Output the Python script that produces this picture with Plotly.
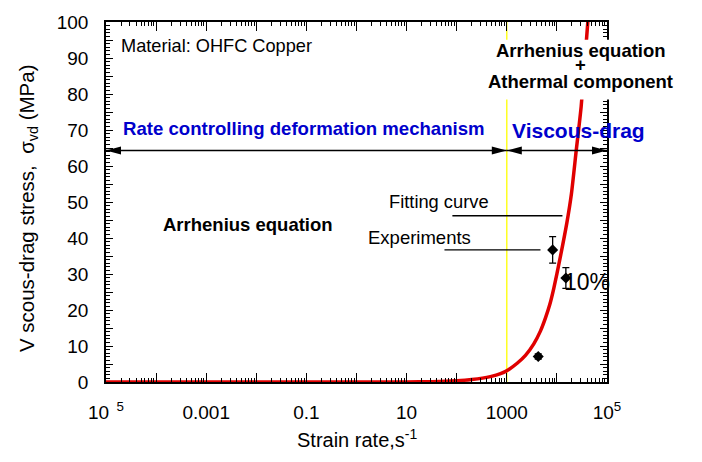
import plotly.graph_objects as go

# Fitted viscous-drag stress curve: strain rate (1/s) vs stress (MPa)
fit_rate = [1e-5, 1, 10, 32, 100, 200, 470, 750, 1100, 1610, 2360, 3460, 4710,
            5920, 7210, 8670, 11500, 15800, 19500, 24300, 30500, 41400, 47900]
fit_stress = [0, 0, 0.03, 0.1, 0.35, 0.7, 1.5, 2.3, 3.5, 5.2, 7.4, 10.6, 14.2,
              17.8, 21.5, 26.0, 34.2, 44.2, 52.3, 64.3, 76.5, 100, 112]

# Experimental points (error bars are +/-10 %)
exp_rate = [4240, 8220, 15100]
exp_stress = [7.1, 36.7, 28.9]
exp_err_pct = 10

# Axis ticks
x_major = [1e-5, 1e-4, 1e-3, 1e-2, 1e-1, 1, 10, 100, 1e3, 1e4, 1e5]
x_labels = ["10<sup>\u00a0\u00a05</sup>", "", "0.001", "", "0.1", "", "10", "",
            "1000", "", "10<sup>5</sup>"]
x_minor = [m * d for d in x_major[:-1] for m in range(2, 10)]
y_major = list(range(0, 101, 5))
y_labels = ["0", "", "10", "", "20", "", "30", "", "40", "", "50", "",
            "60", "", "70", "", "80", "", "90", "", "100"]

# Regime boundary and the level of the regime arrows
transition_rate = 1000
arrow_level = 64.3
rate_min, rate_max = 1e-5, 1e5

FONT = "Arial, 'Liberation Sans', Helvetica, sans-serif"
BLUE = "#0000cc"
RED = "#e00000"

fig = go.Figure()

fig.add_trace(go.Scatter(
    x=fit_rate, y=fit_stress, mode="lines",
    line=dict(color=RED, width=3.5, shape="spline", smoothing=0.6),
    hoverinfo="skip"))

fig.add_trace(go.Scatter(
    x=exp_rate, y=exp_stress, mode="markers",
    marker=dict(symbol="diamond", size=8.5, color="black"),
    error_y=dict(type="percent", value=exp_err_pct, color="black",
                 thickness=1.3, width=3.5)))

# empty trace that carries the top/right frame axes
fig.add_trace(go.Scatter(x=[rate_min], y=[0], xaxis="x2", yaxis="y2", mode="markers",
                         marker=dict(opacity=0), hoverinfo="skip"))

shapes = []
# regime boundary
shapes.append(dict(type="line", xref="x", yref="y", x0=transition_rate, x1=transition_rate,
                   y0=0, y1=100, line=dict(color="#ffff00", width=1.3), layer="below"))
# double arrows
for a, b in [(rate_min, transition_rate), (transition_rate, rate_max)]:
    shapes.append(dict(type="line", xref="x", yref="y", x0=a, x1=b,
                       y0=arrow_level, y1=arrow_level, line=dict(color="black", width=1.4)))
    shapes.append(dict(type="path", xref="x", yref="y", xsizemode="pixel", ysizemode="pixel",
                       xanchor=a, yanchor=arrow_level, path="M0,0L15,4L15,-4Z",
                       fillcolor="black", line=dict(width=0)))
    shapes.append(dict(type="path", xref="x", yref="y", xsizemode="pixel", ysizemode="pixel",
                       xanchor=b, yanchor=arrow_level, path="M0,0L-15,4L-15,-4Z",
                       fillcolor="black", line=dict(width=0)))
# leader lines for the labels
shapes.append(dict(type="line", xref="x", yref="y", x0=82, x1=12900, y0=46.2, y1=46.2,
                   line=dict(color="black", width=1.4)))
shapes.append(dict(type="line", xref="x", yref="y", x0=57, x1=4700, y0=36.7, y1=36.7,
                   line=dict(color="black", width=1.4)))
# white backing behind the upper-right label block
shapes.append(dict(type="rect", xref="paper", yref="paper", x0=0.764, x1=1.138,
                   y0=0.785, y1=0.951, fillcolor="white", line=dict(width=0), layer="above"))


def note(text, x, y, size, xanchor="left", color="black", bold=False, angle=0):
    if bold:
        text = "<b>" + text + "</b>"
    return dict(text=text, x=x, y=y, xref="paper", yref="paper", showarrow=False,
                xanchor=xanchor, yanchor="middle", textangle=angle,
                font=dict(family=FONT, size=size, color=color))


annotations = [
    note("Material: OHFC Copper", 0.026, 0.934, 18.2),
    note("Rate controlling deformation mechanism", 0.029, 0.705, 18.6, color=BLUE, bold=True),
    note("Viscous-drag", 0.8054, 0.699, 21, color=BLUE, bold=True),
    note("Arrhenius equation", 0.9475, 0.922, 18.5, xanchor="center", bold=True),
    note("+", 0.9475, 0.882, 18.5, xanchor="center", bold=True),
    note("Athermal component", 0.9475, 0.836, 18.5, xanchor="center", bold=True),
    note("Arrhenius equation", 0.2834, 0.437, 18.5, xanchor="center", bold=True),
    note("Fitting curve", 0.5615, 0.501, 18.3),
    note("Experiments", 0.519, 0.401, 18.5),
    note("10%", 0.9102, 0.277, 23),
    note("V scous-drag stress,\u00a0\u00a0\u03c3<sub>vd</sub> (MPa)", -0.1567, 0.4845, 20.5,
         xanchor="center", angle=-90),
    note("Strain rate,s<sup>-1</sup>", 0.501, -0.1576, 20, xanchor="center"),
]

tick_font = dict(family=FONT, size=19, color="black")
frame = dict(showline=True, linecolor="black", linewidth=1.6, ticks="inside",
             tickcolor="black", tickwidth=1.4, showgrid=False, zeroline=False)
x_ticks = dict(type="log", range=[-5, 5], tickmode="array", tickvals=x_major, ticklen=9,
               minor=dict(tickmode="array", tickvals=x_minor, ticks="inside", ticklen=4,
                          tickwidth=1.2, tickcolor="black", showgrid=False))
y_ticks = dict(range=[0, 100], tickmode="array", tickvals=y_major, ticklen=7,
               minor=dict(dtick=1, ticks="inside", ticklen=4, tickwidth=1.1,
                          tickcolor="black", showgrid=False))

fig.update_layout(
    width=702, height=462,
    margin=dict(l=106, r=95, t=14, b=80),
    paper_bgcolor="white", plot_bgcolor="white",
    showlegend=False,
    font=dict(family=FONT, color="black"),
    shapes=shapes, annotations=annotations,
    xaxis=dict(ticktext=x_labels, ticklabelstandoff=12, tickfont=tick_font,
               **x_ticks, **frame),
    yaxis=dict(ticktext=y_labels, ticklabelstandoff=12, tickfont=tick_font,
               **y_ticks, **frame),
    xaxis2=dict(overlaying="x", side="top", anchor="y2", showticklabels=False,
                **x_ticks, **frame),
    yaxis2=dict(overlaying="y", side="right", anchor="x2", showticklabels=False,
                **y_ticks, **frame),
)

fig.write_html("out.html")
